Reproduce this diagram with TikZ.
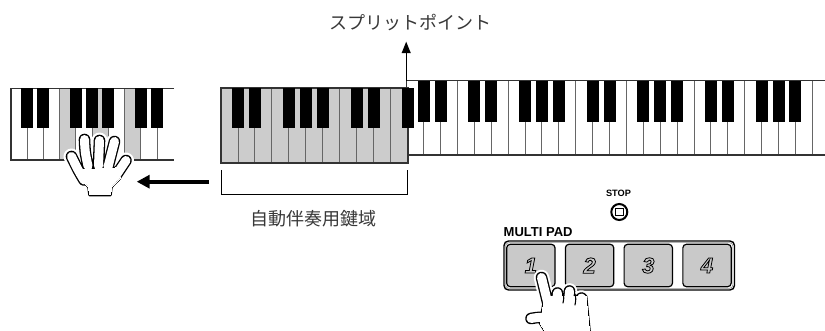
\documentclass[tikz,border=0pt]{standalone}
\usepackage{fontspec}
\setmainfont{Liberation Sans}
\newfontfamily\jpfont{Noto Sans CJK JP}
\usetikzlibrary{arrows.meta}

\definecolor{keyfill}{gray}{0.80}
\definecolor{keyedge}{gray}{0.40}
\definecolor{frameedge}{gray}{0.20}
\definecolor{labeltext}{gray}{0.22}
\definecolor{padfill}{gray}{0.79}

% glyphs drawn as outlines only (text render mode 1)
\newcommand{\outlinedigit}[1]{%
  \special{pdf:literal direct 1 Tr 0.8 w 0 G}#1\special{pdf:literal direct 0 Tr}}

\tikzset{
  frameline/.style={draw=frameedge, line width=1.3},
  keysep/.style={draw=keyedge, line width=0.9},
  blackkey/.style={fill=black},
  graykey/.style={fill=keyfill},
  jplabel/.style={font=\jpfont\fontsize{18}{20}\selectfont, text=labeltext, inner sep=0},
  btnlabel/.style={font=\bfseries\fontsize{9.2}{10}\selectfont, inner sep=0},
  panellabel/.style={font=\bfseries\fontsize{13}{14}\selectfont, inner sep=0, anchor=west},
  padkey/.style={draw=black, line width=1.2, fill=padfill, rounded corners=3.5,
    minimum width=48.3, minimum height=42.4, inner sep=0,
    font=\bfseries\itshape\fontsize{22}{22}\selectfont},
  handpart/.style={line cap=round, line join=round},
}

\begin{document}
\begin{tikzpicture}[x=1pt, y=-1pt]
\useasboundingbox (0,0) rectangle (825,331);

% ---------- left keyboard (F major chord marked) ----------
\foreach \i in {3,5,7}
  \fill[graykey] ({11+\i*16.23},88.5) rectangle ({11+(\i+1)*16.23},160);
\foreach \i in {1,...,9}
  \draw[keysep] ({11+\i*16.23},88.5) -- ({11+\i*16.23},160);
\draw[frameline] (174,88.5) -- (11,88.5) -- (11,160) -- (174,160);
\foreach \i in {1,2,4,5,6,8,9}
  \fill[blackkey] ({11+\i*16.23-6},88.5) rectangle ({11+\i*16.23+6},127.7);

% ---------- right keyboard ----------
\foreach \i in {1,...,24}
  \draw[keysep] ({406.7+\i*16.9},80.7) -- ({406.7+\i*16.9},155);
\draw[frameline] (826,80.7) -- (406.7,80.7) -- (406.7,155) -- (826,155);
\foreach \i in {1,2,4,5,7,8,9,11,12,14,15,16,18,19,21,22,23}
  \fill[blackkey] ({406.7+\i*16.9-6},80.7) rectangle ({406.7+\i*16.9+6},121.7);

% ---------- accompaniment range keyboard ----------
\fill[graykey] (221,88.3) rectangle (407.7,163);
\foreach \i in {1,...,10}
  \draw[keysep] ({221+\i*16.97},88.3) -- ({221+\i*16.97},163);
\draw[draw=frameedge, line width=2] (221,88.3) rectangle (407.7,163);
\foreach \i in {1,2,4,5,6,8,9,11}
  \fill[blackkey] ({221+\i*16.97-5.85},88.3) rectangle ({221+\i*16.97+5.85},128.3);

% ---------- labels and pointers ----------
\node[jplabel] (split) at (410,23) {スプリットポイント};
\coordinate (splitfoot) at (406.2,81);
\coordinate (splittip) at (406.2,41.7);
\draw[line width=1, -{Triangle[length=11.5pt, width=9pt]}] (splitfoot) -- (splittip);

\coordinate (rangeL) at (221.7,170);
\coordinate (rangeR) at (407.3,170);
\draw[line width=1] (rangeL) -- ++(0,24.3) -| (rangeR);
\node[jplabel] (range) at (313,219) {自動伴奏用鍵域};

\coordinate (shiftfrom) at (209,181.7);
\coordinate (shiftto) at (136.7,181.7);
\draw[line width=4, -{Triangle[length=13pt, width=13pt]}] (shiftfrom) -- (shiftto);

% ---------- open hand on the left keyboard ----------
\foreach \w/\c in {16/white, 11.6/black, 9/white} {
  \draw[handpart, line width=\w, \c]
    (84,180) .. controls (78,170) .. (71.5,156.5)
    (88,166) .. controls (85,152) .. (84.5,139.5)
    (98.5,166) -- (99.5,140.5)
    (108,167) .. controls (112,154) .. (114.5,141.5)
    (115,177) .. controls (120,168) .. (126,160.5);
  \filldraw[handpart, line width=\w-9, draw=\c, fill=\c]
    (83,170) -- (115,168) -- (120,178) -- (111.5,187) -- (110.5,195)
    -- (89.5,195) -- (88.5,187) -- (81,179) -- cycle;
}

% ---------- STOP button ----------
\node[btnlabel] (stoplabel) at (618.5,193.5) {STOP};
\node[draw=black, line width=2, circle, minimum size=16, inner sep=0] (stop) at (619.3,212) {};
\node[draw=black, line width=1, minimum size=7.5, inner sep=0] (stopsq) at (stop.center) {};

% ---------- MULTI PAD panel ----------
\node[panellabel] (padtitle) at (503.5,231.7) {MULTI PAD};
\draw[draw=black, line width=1.4, rounded corners=4.5] (504,241) rectangle (734.5,290);
\draw[draw=black!45, line width=0.6, rounded corners=3.5] (505.6,242.6) rectangle (732.9,288.4);
\foreach \i in {1,...,4}
  \node[padkey] (pad\i) at ({530.85+(\i-1)*58.72},265.5) {\outlinedigit{\i}};

% ---------- hand pressing pad 1 ----------
\foreach \w/\c in {15.6/white, 11.6/black, 9/white} {
  \draw[handpart, line width=\w, \c]
    (541.5,277.5) -- (548,304)
    (557.5,293) -- (557,298)
    (569.5,291) -- (569,297)
    (581.5,298) -- (581,302)
    (531,318.5) .. controls (540,317) .. (552,318);
  \filldraw[handpart, line width=\w-9, draw=\c, fill=\c]
    (545,296) -- (586,296) -- (590,336) -- (548,336) -- (540,323) -- cycle;
}
\draw[handpart, line width=1.1] (563,294) .. controls (564,298) .. (563,303);
\draw[handpart, line width=1.1] (575,294) .. controls (576,299) .. (575,305);
\end{tikzpicture}
\end{document}
